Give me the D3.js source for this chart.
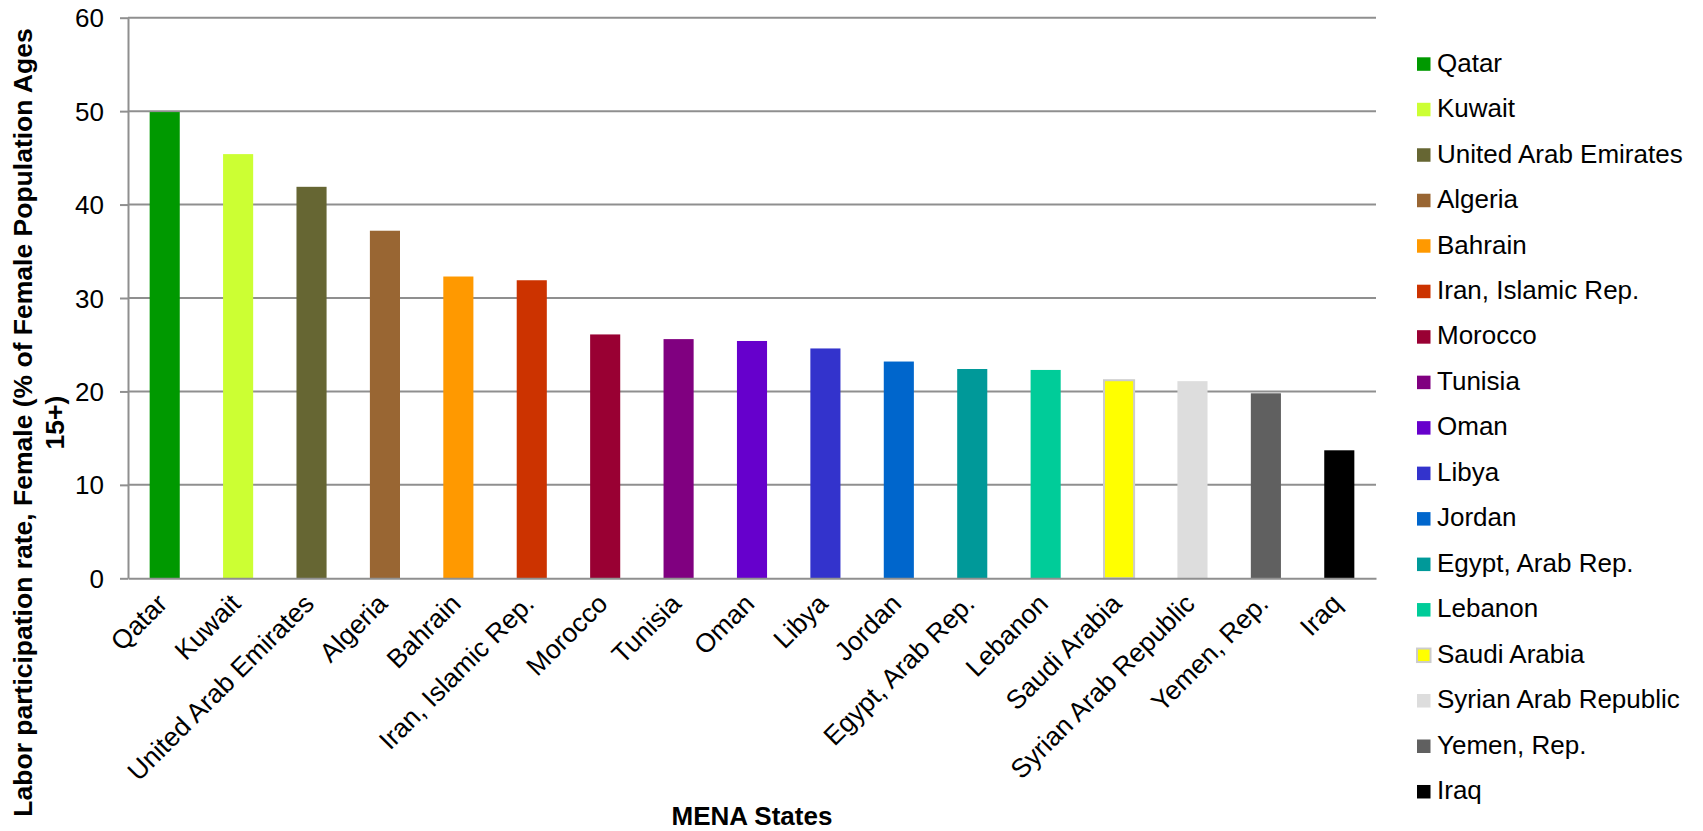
<!DOCTYPE html>
<html>
<head>
<meta charset="utf-8">
<script src="https://cdn.jsdelivr.net/npm/d3@7"></script>
<style>
  html, body { margin: 0; padding: 0; background: #fff; }
  svg { display: block; }
  text { font-family: "Liberation Sans", Arial, sans-serif; fill: #000; }
</style>
</head>
<body>
<svg id="chart" width="1703" height="831"></svg>
<script>
const countries = ["Qatar", "Kuwait", "United Arab Emirates", "Algeria", "Bahrain",
  "Iran, Islamic Rep.", "Morocco", "Tunisia", "Oman", "Libya", "Jordan",
  "Egypt, Arab Rep.", "Lebanon", "Saudi Arabia", "Syrian Arab Republic",
  "Yemen, Rep.", "Iraq"];
const values = [49.9, 45.4, 41.9, 37.2, 32.3, 31.9, 26.1, 25.6, 25.4, 24.6, 23.2,
  22.4, 22.3, 21.2, 21.1, 19.8, 13.7];
const colors = ["#009900", "#CCFF33", "#666633", "#996633", "#FF9900", "#CC3300",
  "#990033", "#800080", "#6600CC", "#3333CC", "#0066CC", "#009999", "#00CC99",
  "#FFFF00", "#DDDDDD", "#606060", "#000000"];
const yTicks = [0, 10, 20, 30, 40, 50, 60];
const yTitleLines = ["Labor participation rate, Female (% of Female Population Ages", "15+)"];
const xTitle = "MENA States";

(function () {
const svg = d3.select("#chart");
const pLeft = 128, pRight = 1376, pTop = 17.7, pBottom = 578.3;
const gridColor = "#8f8f8f";

const x = d3.scaleBand().domain(countries).range([pLeft, pRight])
  .paddingInner(0.59).paddingOuter(0.295);
const y = d3.scaleLinear().domain([0, 60]).range([pBottom, pTop]);
const color = d3.scaleOrdinal().domain(countries).range(colors);

// gridlines
svg.append("g").selectAll("line").data(yTicks.filter(d => d > 0)).join("line")
  .attr("x1", pLeft).attr("x2", pRight)
  .attr("y1", d => y(d)).attr("y2", d => y(d))
  .attr("stroke", gridColor).attr("stroke-width", 2);

// y axis
const yAxis = svg.append("g").attr("transform", `translate(${pLeft},0)`)
  .call(d3.axisLeft(y).tickValues(yTicks).tickSize(8).tickPadding(16).tickSizeOuter(0));
yAxis.select(".domain").attr("stroke", gridColor).attr("stroke-width", 2);
yAxis.selectAll(".tick line").attr("stroke", gridColor).attr("stroke-width", 2);
yAxis.selectAll(".tick text").attr("font-size", 26).attr("dy", "0.35em")
  .style("font-family", "'Liberation Sans', Arial, sans-serif").attr("fill", "#000");

// bars
svg.append("g").selectAll("rect").data(countries).join("rect")
  .attr("x", d => x(d)).attr("width", x.bandwidth())
  .attr("y", (d, i) => y(values[i])).attr("height", (d, i) => pBottom - y(values[i]))
  .attr("fill", d => color(d))
  .attr("stroke", d => d === "Saudi Arabia" ? "#cccccc" : "none")
  .attr("stroke-width", 2);

// x axis
const xAxis = svg.append("g").attr("transform", `translate(0,${pBottom})`)
  .call(d3.axisBottom(x).tickSize(0).tickSizeOuter(0));
xAxis.select(".domain").attr("stroke", gridColor).attr("stroke-width", 2);
xAxis.selectAll(".tick text")
  .attr("x", 0).attr("y", 0).attr("dy", 0)
  .attr("text-anchor", "end")
  .attr("transform", "translate(4,27) rotate(-45)")
  .attr("font-size", 26.5)
  .style("font-family", "'Liberation Sans', Arial, sans-serif").attr("fill", "#000");

// y title
yTitleLines.forEach((t, i) => {
  svg.append("text")
    .attr("transform", `translate(${32 + i * 31.5},422.5) rotate(-90)`)
    .attr("text-anchor", "middle").attr("font-size", 26.5).attr("font-weight", "bold")
    .text(t);
});

// x title
svg.append("text").attr("x", (pLeft + pRight) / 2).attr("y", 825)
  .attr("text-anchor", "middle").attr("font-size", 26).attr("font-weight", "bold")
  .text(xTitle);

// legend
const lg = svg.append("g").selectAll("g").data(countries).join("g")
  .attr("transform", (d, i) => `translate(1417,${57.3 + i * 45.48})`);
lg.append("rect").attr("width", 13.5).attr("height", 13.5)
  .attr("fill", d => color(d))
  .attr("stroke", d => d === "Saudi Arabia" ? "#cccccc" : "none").attr("stroke-width", 2);
lg.append("text").attr("x", 20).attr("y", 14.3).attr("font-size", 26).text(d => d);
})();
</script>
</body>
</html>
